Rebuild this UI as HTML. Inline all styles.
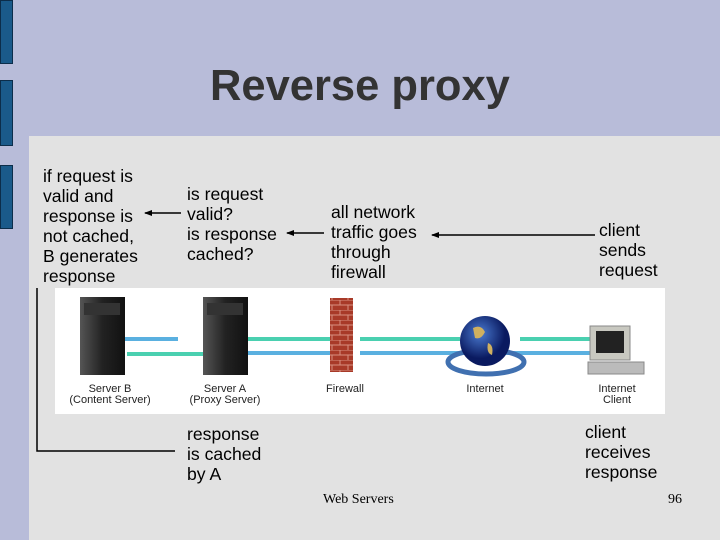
<!DOCTYPE html>
<html><head><style>
body{margin:0;width:720px;height:540px;background:#b8bcd9;position:relative;overflow:hidden;font-family:"Liberation Sans",sans-serif}
.bar{position:absolute;left:0;width:13px;background:#1a5a8a;border:1px solid #0c2d4a;box-sizing:border-box}
.panel{position:absolute;left:29px;top:136px;width:691px;height:404px;background:#e2e2e2}
.t{position:absolute;font-size:17.6px;line-height:20px;color:#000}
.lab{position:absolute;font-size:11px;line-height:11px;color:#222;text-align:center}
</style></head><body>
<div class="bar" style="top:0;height:64px"></div>
<div class="bar" style="top:80px;height:66px"></div>
<div class="bar" style="top:165px;height:64px"></div>
<div style="position:absolute;left:210px;top:60px;font-size:43.5px;line-height:52px;font-weight:bold;color:#333">Reverse proxy</div>
<div class="panel"></div>
<div class="t" style="left:43px;top:166px">if request is<br>valid and<br>response is<br>not cached,<br>B generates<br>response</div>
<div class="t" style="left:187px;top:184px">is request<br>valid?<br>is response<br>cached?</div>
<div class="t" style="left:331px;top:202px">all network<br>traffic goes<br>through<br>firewall</div>
<div class="t" style="left:599px;top:220px">client<br>sends<br>request</div>
<div class="t" style="left:187px;top:424px">response<br>is cached<br>by A</div>
<div class="t" style="left:585px;top:422px">client<br>receives<br>response</div>
<div style="position:absolute;left:323px;top:492px;font-family:'Liberation Serif',serif;font-size:14px">Web Servers</div>
<div style="position:absolute;left:668px;top:492px;font-family:'Liberation Serif',serif;font-size:14px">96</div>
<div style="position:absolute;left:55px;top:288px;width:610px;height:126px;background:#fff"></div>
<svg width="720" height="540" style="position:absolute;left:0;top:0">
<defs><marker id="a" markerWidth="8" markerHeight="8" refX="7" refY="4" orient="auto" markerUnits="userSpaceOnUse"><path d="M0,1 L8,4 L0,7z" fill="#000"/></marker>
<linearGradient id="srv" x1="0" x2="1"><stop offset="0" stop-color="#555"/><stop offset="0.5" stop-color="#222"/><stop offset="1" stop-color="#111"/></linearGradient>
<radialGradient id="g" cx="0.4" cy="0.35"><stop offset="0" stop-color="#4a7ad0"/><stop offset="1" stop-color="#0a1a60"/></radialGradient>
<pattern id="br" width="16" height="10" patternUnits="userSpaceOnUse"><rect width="16" height="10" fill="#a83a28"/><path d="M0,0H16M0,5H16M4,0V5M12,5V10" stroke="#d89080" stroke-width="1"/></pattern></defs>
<g stroke="#000" stroke-width="1.5" fill="none">
<path d="M37,288 V451 H175"/>
<line x1="181" y1="213" x2="145" y2="213" marker-end="url(#a)"/>
<line x1="324" y1="233" x2="287" y2="233" marker-end="url(#a)"/>
<line x1="595" y1="235" x2="432" y2="235" marker-end="url(#a)"/>
</g>
<g stroke-width="4">
<line x1="120" y1="339" x2="178" y2="339" stroke="#5ab0e0"/>
<line x1="203" y1="354" x2="127" y2="354" stroke="#4ad0b0"/>
<line x1="330" y1="339" x2="226" y2="339" stroke="#4ad0b0"/>
<line x1="225" y1="353" x2="330" y2="353" stroke="#5ab0e0"/>
<line x1="360" y1="339" x2="460" y2="339" stroke="#4ad0b0"/>
<line x1="360" y1="353" x2="590" y2="353" stroke="#5ab0e0"/>
<line x1="600" y1="339" x2="520" y2="339" stroke="#4ad0b0"/>
</g>
<rect x="80" y="297" width="45" height="78" fill="url(#srv)"/>
<rect x="84" y="303" width="36" height="12" fill="#333"/>
<rect x="203" y="297" width="45" height="78" fill="url(#srv)"/>
<rect x="207" y="303" width="36" height="12" fill="#333"/>
<rect x="330" y="298" width="23" height="74" fill="url(#br)"/>
<ellipse cx="486" cy="362" rx="38" ry="12" fill="none" stroke="#4070b0" stroke-width="5"/>
<circle cx="485" cy="341" r="25" fill="url(#g)"/>
<path d="M473,328 q8,-4 12,4 q-4,8 -10,6z M488,343 q6,2 4,12 q-6,-2 -4,-12z" fill="#d0b060"/>
<rect x="590" y="326" width="40" height="34" fill="#c8c8c0" stroke="#888"/>
<rect x="596" y="331" width="28" height="22" fill="#222"/>
<rect x="588" y="362" width="56" height="12" fill="#bbb" stroke="#888"/>
</svg>
<div class="lab" style="left:55px;top:384px;width:110px">Server B<br>(Content Server)</div>
<div class="lab" style="left:175px;top:384px;width:100px">Server A<br>(Proxy Server)</div>
<div class="lab" style="left:320px;top:384px;width:50px">Firewall</div>
<div class="lab" style="left:455px;top:384px;width:60px">Internet</div>
<div class="lab" style="left:587px;top:384px;width:60px">Internet<br>Client</div>
</body></html>
